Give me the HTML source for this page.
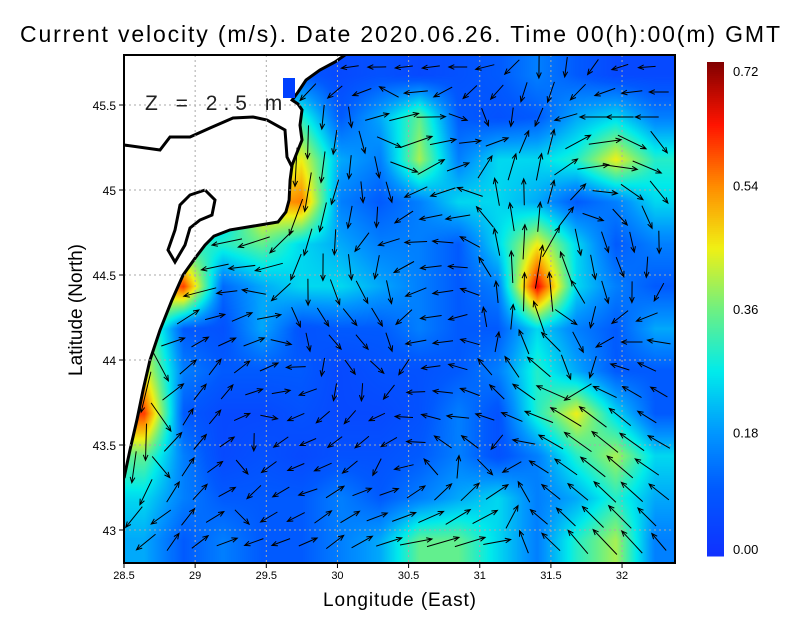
<!DOCTYPE html>
<html><head><meta charset="utf-8"><style>
body{margin:0;background:#fff;width:800px;height:618px;overflow:hidden;font-family:"Liberation Sans",sans-serif}
#wrap{position:relative;width:800px;height:618px}
canvas,svg{position:absolute;left:0;top:0}
</style></head><body><div id="wrap">
<canvas id="cv" width="800" height="618"></canvas>
<svg id="sv" width="800" height="618"></svg>
</div>
<script>
const lons=[28.64,28.91,29.19,29.47,29.74,30.01,30.29,30.57,30.84,31.12,31.39,31.67,31.95,32.23];
const lats=[45.68,45.43,45.19,44.93,44.68,44.44,44.18,43.94,43.69,43.44,43.19,42.94];
const speedRows=[
[0.08,0.08,0.08,0.08,0.1,0.06,0.08,0.06,0.08,0.1,0.15,0.1,0.06,0.06],
[0.08,0.08,0.08,0.15,0.3,0.1,0.2,0.35,0.1,0.08,0.1,0.2,0.25,0.15],
[0.1,0.1,0.1,0.3,0.45,0.2,0.15,0.4,0.15,0.25,0.25,0.3,0.45,0.3],
[0.1,0.1,0.2,0.5,0.55,0.15,0.1,0.15,0.25,0.25,0.2,0.1,0.15,0.25],
[0.3,0.3,0.3,0.35,0.25,0.2,0.15,0.15,0.1,0.25,0.45,0.25,0.1,0.15],
[0.45,0.6,0.12,0.2,0.25,0.25,0.2,0.15,0.1,0.15,0.65,0.25,0.15,0.1],
[0.4,0.1,0.08,0.2,0.08,0.1,0.1,0.15,0.1,0.1,0.25,0.15,0.1,0.2],
[0.45,0.15,0.1,0.1,0.1,0.06,0.08,0.08,0.1,0.15,0.3,0.2,0.1,0.1],
[0.6,0.1,0.06,0.06,0.08,0.06,0.06,0.08,0.15,0.08,0.3,0.45,0.25,0.1],
[0.35,0.15,0.06,0.08,0.06,0.08,0.08,0.1,0.15,0.08,0.15,0.3,0.4,0.25],
[0.25,0.15,0.1,0.1,0.1,0.15,0.1,0.15,0.2,0.25,0.15,0.2,0.3,0.2],
[0.2,0.1,0.15,0.1,0.1,0.15,0.2,0.35,0.35,0.25,0.15,0.3,0.4,0.15]];
const dirRows=[
[200,200,200,200,200,190,180,190,180,200,270,260,200,180],
[270,270,270,270,270,260,20,10,340,270,250,180,180,180],
[270,270,270,270,270,260,280,30,20,60,80,10,0,340],
[200,200,200,200,260,250,300,200,200,110,90,60,330,300],
[200,200,190,200,250,270,200,180,170,100,80,280,290,270],
[210,200,190,170,260,290,300,200,180,100,80,120,300,250],
[240,30,10,20,300,320,300,180,200,60,120,300,200,180],
[250,40,60,20,180,300,320,200,160,120,140,300,160,150],
[260,60,50,0,200,240,200,160,180,150,160,145,140,150],
[270,60,30,220,200,210,230,180,100,260,150,145,140,150],
[240,60,30,220,200,30,20,30,40,40,140,140,135,140],
[220,50,20,200,20,40,20,10,20,10,140,130,135,130]];
const xTicks=[28.5,29,29.5,30,30.5,31,31.5,32];
const yTicks=[43,43.5,44,44.5,45,45.5];
const cbTicks=[0,0.18,0.36,0.54,0.72];
const landLon=[28.5,30.053,29.983,29.877,29.779,29.723,29.681,29.723,29.751,29.737,29.751,29.709,29.681,29.667,29.660,29.638,29.582,29.456,29.245,29.132,29.069,29.0,28.915,28.837,28.753,28.683,28.634,28.591,28.542,28.5];
const landLat=[45.794,45.794,45.753,45.706,45.647,45.576,45.529,45.506,45.471,45.382,45.294,45.206,45.147,45.059,44.941,44.871,44.812,44.794,44.765,44.729,44.676,44.6,44.5,44.353,44.176,44.0,43.824,43.647,43.471,43.306];

const X0=124,X1=675,Y0=55,Y1=563;
const sx=l=>124+(l-28.5)*142.3;
const sy=a=>105+(45.5-a)*170;
const NS='http://www.w3.org/2000/svg';
function cmap(v){
  const st=[[0,[16,48,255]],[0.1,[0,90,255]],[0.18,[0,150,255]],[0.27,[0,235,235]],[0.36,[110,240,130]],[0.45,[240,240,20]],[0.54,[255,140,0]],[0.63,[255,20,0]],[0.72,[130,0,0]]];
  v=Math.max(0,Math.min(0.72,v));
  for(let i=1;i<st.length;i++){if(v<=st[i][0]){const t=(v-st[i-1][0])/(st[i][0]-st[i-1][0]);return st[i-1][1].map((c,k)=>c+(st[i][1][k]-c)*t);}}
  return st[st.length-1][1];
}
function interp(grid,lon,lat){
  let fx=(lon-lons[0])/(lons[lons.length-1]-lons[0])*(lons.length-1);
  let fy=(lats[0]-lat)/(lats[0]-lats[lats.length-1])*(lats.length-1);
  fx=Math.max(0,Math.min(lons.length-1.001,fx));fy=Math.max(0,Math.min(lats.length-1.001,fy));
  const i=Math.floor(fx),j=Math.floor(fy),tx=fx-i,ty=fy-j;
  const a=grid[j][i],b=grid[j][i+1],c=grid[j+1][i],d=grid[j+1][i+1];
  return a*(1-tx)*(1-ty)+b*tx*(1-ty)+c*(1-tx)*ty+d*tx*ty;
}
const cv=document.getElementById('cv'),ctx=cv.getContext('2d');
const img=ctx.createImageData(X1-X0,Y1-Y0);
for(let y=Y0;y<Y1;y++)for(let x=X0;x<X1;x++){
  const lon=28.5+(x-124)/142.3,lat=45.5-(y-105)/170;
  const c=cmap(interp(speedRows,lon,lat));const p=((y-Y0)*(X1-X0)+(x-X0))*4;
  img.data[p]=c[0];img.data[p+1]=c[1];img.data[p+2]=c[2];img.data[p+3]=255;}
ctx.putImageData(img,X0,Y0);
const sv=document.getElementById('sv');
function el(t,a,parent){const e=document.createElementNS(NS,t);for(const k in a)e.setAttribute(k,a[k]);(parent||sv).appendChild(e);return e;}
const lp=landLon.map((l,i)=>sx(l).toFixed(1)+','+sy(landLat[i]).toFixed(1)).join(' ');
const land=el('polygon',{points:lp,fill:'#fff',stroke:'none'});

const coast=el('polyline',{points:lp.split(' ').slice(1).join(' '),fill:'none',stroke:'#000','stroke-width':3});

const lake=el('polyline',{points:'124,145 160,150 170,137 190,137 210,128 233,118 253,117 267,120 285,130 287,157 292,167',fill:'none',stroke:'#000','stroke-width':3});

const isl=el('polyline',{points:'205,190 215,200 212,215 200,220 190,228 185,245 175,262 168,250 175,230 180,205 190,195 205,190',fill:'none',stroke:'#000','stroke-width':3});

const bl=el('rect',{x:283,y:78,width:12,height:20,fill:'#0040ff'});

xTicks.forEach(t=>{const g=el('line',{x1:sx(t),x2:sx(t),y1:Y0,y2:Y1,stroke:'#aaa','stroke-dasharray':'2,3'});});
yTicks.forEach(t=>{const g=el('line',{x1:X0,x2:X1,y1:sy(t),y2:sy(t),stroke:'#aaa','stroke-dasharray':'2,3'});});
function insideLand(x,y){const pts=landLon.map((l,i)=>[sx(l),sy(landLat[i])]);let c=false;
  for(let i=0,j=pts.length-1;i<pts.length;j=i++){const [xi,yi]=pts[i],[xj,yj]=pts[j];if(((yi>y)!=(yj>y))&&(x<(xj-xi)*(y-yi)/(yj-yi)+xi))c=!c;}return c;}
const ag=el('g',{stroke:'#000','stroke-width':1,fill:'none'});

const dirU=dirRows.map(r=>r.map(d=>Math.cos(d*Math.PI/180)));
const dirV=dirRows.map(r=>r.map(d=>Math.sin(d*Math.PI/180)));
for(let y=Y0+12;y<Y1-5;y+=25)for(let x=X0+10+((y/25|0)%2)*12;x<X1-5;x+=27){
  const lon=28.5+(x-124)/142.3,lat=45.5-(y-105)/170;
  if(insideLand(x,y))continue;
  const u=interp(dirU,lon,lat),v=interp(dirV,lon,lat),s=interp(speedRows,lon,lat);
  const n=Math.hypot(u,v)||1,L=14+s*55,dx=u/n*L,dy=-v/n*L;
  const x0=x-dx/2,y0=y-dy/2,x1=x+dx/2,y1=y+dy/2,a=Math.atan2(dy,dx);
  const p=el('path',{d:`M${x0.toFixed(1)},${y0.toFixed(1)}L${x1.toFixed(1)},${y1.toFixed(1)}M${(x1-6*Math.cos(a-0.4)).toFixed(1)},${(y1-6*Math.sin(a-0.4)).toFixed(1)}L${x1.toFixed(1)},${y1.toFixed(1)}L${(x1-6*Math.cos(a+0.4)).toFixed(1)},${(y1-6*Math.sin(a+0.4)).toFixed(1)}`},ag);
  
}
const cov=el('path',{d:`M0,0H800V618H0Z M${X0},${Y0}V${Y1}H${X1}V${Y0}Z`,fill:'#fff','fill-rule':'evenodd'});

const fr=el('rect',{x:X0,y:Y0,width:X1-X0,height:Y1-Y0,fill:'none',stroke:'#000','stroke-width':2});

// colorbar (drawn after mask)
const cbg=el('g',{});

for(let y=62;y<556;y+=2){const c=cmap((556-y)/494*0.72).map(Math.round);
  const r=el('rect',{x:707,y:y,width:17,height:2.5,fill:`rgb(${c})`},cbg);
  }
xTicks.forEach(t=>{const tk=el('line',{x1:sx(t),x2:sx(t),y1:Y1,y2:Y1+5,stroke:'#000'});
  const tx=el('text',{x:sx(t),y:Y1+16,'font-size':11,'text-anchor':'middle'});tx.textContent=t;});
yTicks.forEach(t=>{const tk=el('line',{x1:X0-5,x2:X0,y1:sy(t),y2:sy(t),stroke:'#000'});
  const tx=el('text',{x:X0-8,y:sy(t)+5,'font-size':12,'text-anchor':'end'});tx.textContent=t;});
cbTicks.forEach(t=>{const tx=el('text',{x:733,y:556-t/0.72*494+(t==0.72?14:t==0?-2:5),'font-size':13});tx.textContent=t.toFixed(2);});
function txt(s,a,name){const t=el('text',a);t.textContent=s;return t;}
txt('Current velocity (m/s). Date 2020.06.26. Time 00(h):00(m) GMT',{x:20,y:42,'font-size':23,textLength:760,lengthAdjust:'spacing'},'chart-title');
txt('Longitude (East)',{x:323,y:606,'font-size':19,textLength:153,lengthAdjust:'spacing'},'x-axis-title');
txt('Latitude (North)',{x:0,y:0,'font-size':19,'text-anchor':'middle',transform:'translate(82,310) rotate(-90)'},'y-axis-title');
txt('Z = 2.5 m',{x:145,y:110,'font-size':21,'letter-spacing':'6',fill:'#222'},'depth-label');
</script></body></html>
